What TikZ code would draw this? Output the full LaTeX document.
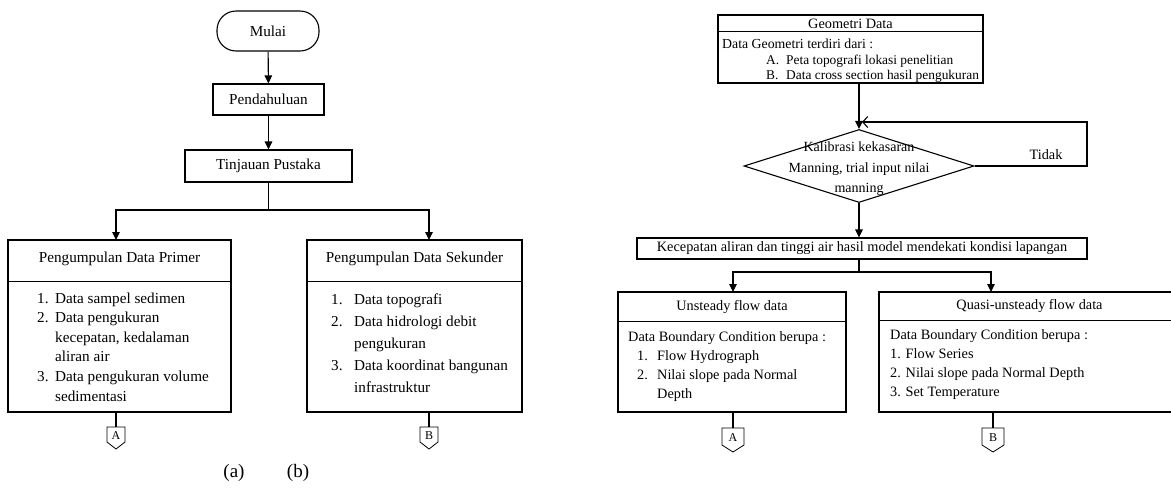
\documentclass[tikz,border=0pt]{standalone}
\usepackage{fontspec}
\setmainfont{Liberation Serif}
\usetikzlibrary{arrows.meta,shapes.geometric,calc}
\newcommand{\lfont}{\fontsize{15.2}{19.6}\selectfont}
\newcommand{\rfont}{\fontsize{14.3}{19}\selectfont}
\begin{document}
\begin{tikzpicture}[x=1pt,y=-1pt,
  lw/.style={line width=1.1pt},
  boxx/.style={draw,lw,inner sep=0pt,rectangle},
  arr/.style={lw,-{Triangle[length=8pt,width=7.5pt]}},
  ln/.style={lw},
  back/.style={lw,-{Straight Barb[length=5pt,width=11pt]}},
  txt/.style={inner sep=0pt},
  conlab/.style={inner sep=0pt,font=\fontsize{12}{12}\selectfont},
]
\useasboundingbox (0,0) rectangle (1171,499);
\clip (0,0) rectangle (1171,499);
%% ---------- (a) ----------
\node[boxx,rounded corners=19pt,minimum width=102pt,minimum height=40pt,font=\lfont] (mulai) at (268,31) {Mulai};
\node[boxx,minimum width=111pt,minimum height=31pt,font=\lfont] (pend) at (268.5,99.5) {Pendahuluan};
\node[boxx,minimum width=167pt,minimum height=32pt,font=\lfont] (tinj) at (268.5,166) {Tinjauan Pustaka};
\node[boxx,minimum width=223pt,minimum height=172pt] (prim) at (119.5,326) {};
\node[boxx,minimum width=215pt,minimum height=172pt] (seku) at (414.5,326) {};
\draw[ln] ($(prim.north west)+(0,42)$) -- ($(prim.north east)+(0,42)$);
\draw[ln] ($(seku.north west)+(0,42)$) -- ($(seku.north east)+(0,42)$);
\node[txt,font=\lfont] (primh) at (119.5,259) {Pengumpulan Data Primer};
\node[txt,font=\lfont] (sekuh) at (414.5,259) {Pengumpulan Data Sekunder};
\node[txt,anchor=base west,font=\lfont] (primt) at (37,303) {\begin{tabular}[t]{@{}l@{}}
\makebox[18pt][l]{1.}Data sampel sedimen\\
\makebox[18pt][l]{2.}Data pengukuran\\
\makebox[18pt][l]{}kecepatan, kedalaman\\
\makebox[18pt][l]{}aliran air\\
\makebox[18pt][l]{3.}Data pengukuran volume\\
\makebox[18pt][l]{}sedimentasi\end{tabular}};
\node[txt,anchor=base west,font=\fontsize{15.2}{22.2}\selectfont] (sekut) at (331,304) {\begin{tabular}[t]{@{}l@{}}
\makebox[23pt][l]{1.}Data topografi\\
\makebox[23pt][l]{2.}Data hidrologi debit\\
\makebox[23pt][l]{}pengukuran\\
\makebox[23pt][l]{3.}Data koordinat bangunan\\
\makebox[23pt][l]{}infrastruktur\end{tabular}};
\coordinate (j1) at (268.5,210);
\coordinate (pa) at (116,240);
\coordinate (pb) at (429,240);
\draw[arr] (mulai) -- (pend);
\draw[arr] (pend) -- (tinj);
\draw[ln] (tinj.south) -- (j1);
\draw[arr] (j1) -| (pa);
\draw[arr] (j1) -| (pb);
% connectors A, B (left)
\coordinate (ca1) at (116,427);
\coordinate (cb1) at (429,427);
\draw[ln] (prim.south -| ca1) -- (ca1);
\draw[ln] (seku.south -| cb1) -- (cb1);
\draw[line width=0.8pt] (107,427) -- (125,427) -- (125,442) -- (116,449) -- (107,442) -- cycle;
\draw[line width=0.8pt] (420,427) -- (438,427) -- (438,442) -- (429,449) -- (420,442) -- cycle;
\node[conlab] (la) at (116,436) {A};
\node[conlab] (lb) at (429,436) {B};
\node[txt,font=\fontsize{19}{19}\selectfont] (capa) at (234,473) {(a)};
\node[txt,font=\fontsize{19}{19}\selectfont] (capb) at (298,473) {(b)};
%% ---------- (b) ----------
\node[boxx,minimum width=265pt,minimum height=68pt] (geo) at (850.5,49) {};
\draw[ln] ($(geo.north west)+(0,17)$) -- ($(geo.north east)+(0,17)$);
\node[txt,font=\rfont] (geoh) at (850.5,23.5) {Geometri Data};
\node[txt,anchor=base west,font=\fontsize{13.4}{15.5}\selectfont] (geot) at (722,48.5) {\begin{tabular}[t]{@{}l@{}}
\fontsize{13.8}{15.5}\selectfont Data Geometri terdiri dari :\\
\hspace{44pt}\makebox[20pt][l]{A.}Peta topografi lokasi penelitian\\
\hspace{44pt}\makebox[20pt][l]{B.}Data cross section hasil pengukuran\end{tabular}};
\node[draw,lw,diamond,inner sep=0pt,minimum width=230pt,minimum height=73pt] (dia) at (859,166) {};
\node[txt,align=center,font=\fontsize{14}{20.5}\selectfont] (diat) at (859,169) {Kalibrasi kekasaran\\Manning, trial input nilai\\manning};
\node[boxx,minimum width=450pt,minimum height=21pt,font=\rfont] (kec) at (862,248.5) {Kecepatan aliran dan tinggi air hasil model mendekati kondisi lapangan};
\node[txt,font=\rfont] (tidak) at (1046,155) {Tidak};
\coordinate (lp1) at (1087,166);
\coordinate (lp2) at (862,122);
\draw[arr] (geo.south -| dia.north) -- (dia.north);
\draw[back] (dia.east) -- (lp1) |- (lp2);
\draw[arr] (dia.south) -- (dia.south |- kec.north);
\node[boxx,minimum width=228pt,minimum height=120pt] (uns) at (732,352) {};
\node[boxx,minimum width=301pt,minimum height=120pt] (qua) at (1029.5,352) {};
\draw[ln] ($(uns.north west)+(0,30)$) -- ($(uns.north east)+(0,30)$);
\draw[ln] ($(qua.north west)+(0,29)$) -- ($(qua.north east)+(0,29)$);
\node[txt,font=\rfont] (unsh) at (732,307) {Unsteady flow data};
\node[txt,font=\rfont] (quah) at (1029.5,306.5) {Quasi-unsteady flow data};
\node[txt,anchor=base west,font=\rfont] (unst) at (628,341.5) {\begin{tabular}[t]{@{}l@{}}
Data Boundary Condition berupa :\\
\hspace{9pt}\makebox[20pt][l]{1.}Flow Hydrograph\\
\hspace{9pt}\makebox[20pt][l]{2.}Nilai slope pada Normal\\
\hspace{9pt}\makebox[20pt][l]{}Depth\end{tabular}};
\node[txt,anchor=base west,font=\rfont] (quat) at (890,339.5) {\begin{tabular}[t]{@{}l@{}}
Data Boundary Condition berupa :\\
1. Flow Series\\
2. Nilai slope pada Normal Depth\\
3. Set Temperature\end{tabular}};
\coordinate (j2) at (859,272);
\coordinate (ua) at (733,292);
\coordinate (qb) at (991,292);
\draw[ln] (kec.south -| j2) -- (j2);
\draw[arr] (j2) -| (ua);
\draw[arr] (j2) -| (qb);
\coordinate (ca2) at (733,428);
\coordinate (cb2) at (993,428);
\draw[ln] (uns.south -| ca2) -- (ca2);
\draw[ln] (qua.south -| cb2) -- (cb2);
\draw[line width=0.8pt] (722,428) -- (744,428) -- (744,445) -- (733,452) -- (722,445) -- cycle;
\draw[line width=0.8pt] (982,428) -- (1004,428) -- (1004,445) -- (993,452) -- (982,445) -- cycle;
\node[conlab] (la2) at (733,438) {A};
\node[conlab] (lb2) at (993,438) {B};
\end{tikzpicture}
\end{document}
